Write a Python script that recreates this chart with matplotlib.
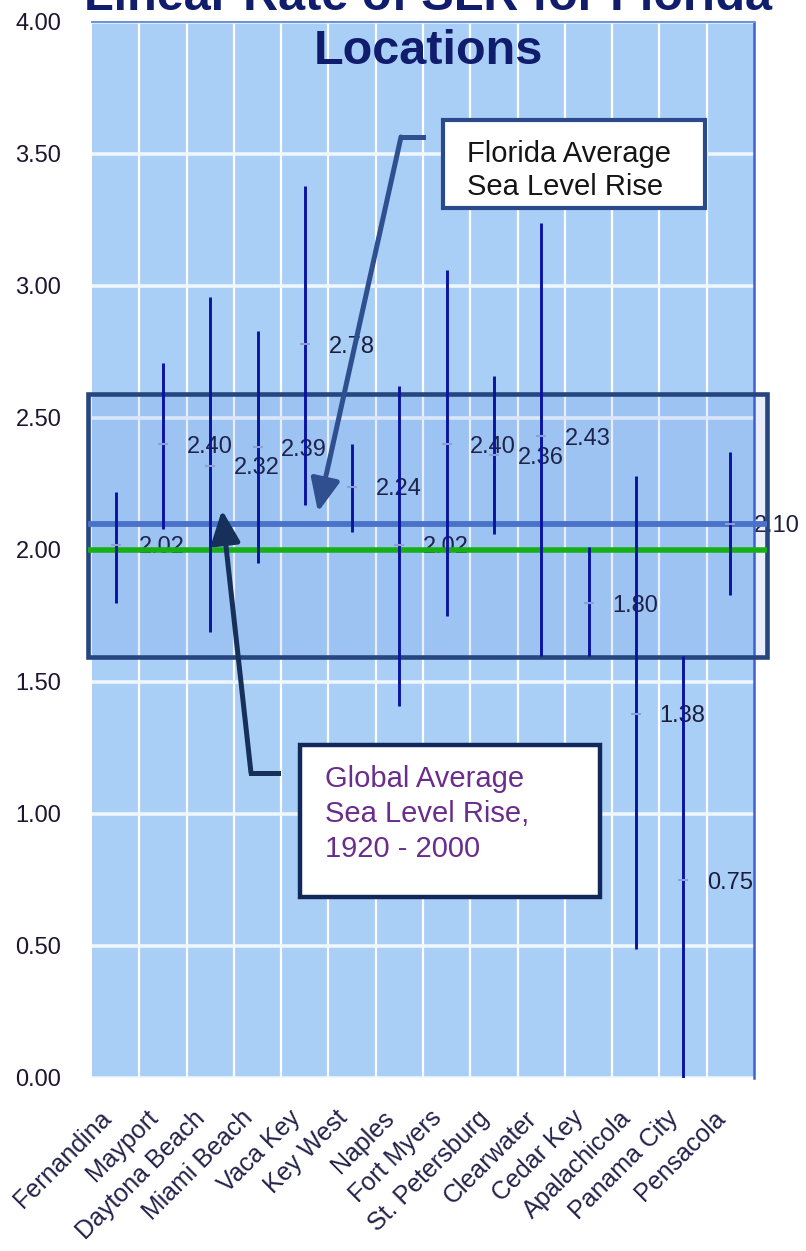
import numpy as np
import matplotlib
matplotlib.use("Agg")
import matplotlib.pyplot as plt
from matplotlib.patches import Rectangle
from matplotlib.lines import Line2D

plt.rcParams['font.family'] = ['Liberation Sans', 'DejaVu Sans']

# ---- data ----
locations = ["Fernandina", "Mayport", "Daytona Beach", "Miami Beach", "Vaca Key",
             "Key West", "Naples", "Fort Myers", "St. Petersburg", "Clearwater",
             "Cedar Key", "Apalachicola", "Panama City", "Pensacola"]
rates = [2.02, 2.40, 2.32, 2.39, 2.78, 2.24, 2.02, 2.40, 2.36, 2.43, 1.80, 1.38, 0.75, 2.10]
rates_low = [1.80, 2.08, 1.69, 1.95, 2.17, 2.07, 1.41, 1.75, 2.06, 1.60, 1.60, 0.49, 0.00, 1.83]
rates_high = [2.22, 2.71, 2.96, 2.83, 3.38, 2.40, 2.62, 3.06, 2.66, 3.24, 2.01, 2.28, 1.60, 2.37]
florida_avg = 2.10
global_avg = 2.00
yticks = [0.0, 0.5, 1.0, 1.5, 2.0, 2.5, 3.0, 3.5, 4.0]

W, H = 806, 1251
fig = plt.figure(figsize=(W / 100, H / 100), dpi=100)
fig.patch.set_facecolor('white')


def F(x, y):
    return (x / W, 1 - y / H)


ax = fig.add_axes([92 / W, 173 / H, 662 / W, 1056 / H])
ax.set_facecolor('#a9cff7')
x = np.arange(len(locations))
ax.set_xlim(-0.5, len(locations) - 0.5)
ax.set_ylim(0, 4)

# grid
ax.set_xticks(x)
ax.set_xticks(np.arange(0.5, len(locations) - 1, 1), minor=True)
ax.grid(which='minor', axis='x', color='white', lw=1.6, zorder=0)
ax.set_yticks(yticks)
ax.grid(which='major', axis='y', color='#eef6ff', lw=2.6, zorder=0)
ax.grid(which='major', axis='x', visible=False)
ax.set_axisbelow(True)

for s in ['left', 'bottom']:
    ax.spines[s].set_visible(False)
ax.spines['top'].set_color('#6f93da')
ax.spines['top'].set_linewidth(1.5)
ax.spines['right'].set_color('#3d62d0')
ax.spines['right'].set_linewidth(1.8)

ax.set_yticklabels([f"{v:.2f}" for v in yticks], fontsize=17, color='#1e1430')
ax.tick_params(axis='y', length=0, pad=22)
ax.set_xticklabels(locations, rotation=45, ha='right', fontsize=18, color='#22224a')
ax.tick_params(axis='x', which='both', length=0, pad=20)

# highlight box
box = Rectangle((-0.585, 1.595), 14.36, 0.995, transform=ax.transData,
                facecolor=(0.22, 0.38, 0.82, 0.10), edgecolor='#27457f', lw=3.3,
                clip_on=False, zorder=3)
ax.add_patch(box)

# average lines
ax.plot([-0.585, 13.775], [florida_avg, florida_avg], color='#4a72c8', lw=4.2,
        solid_capstyle='butt', clip_on=False, zorder=4)
ax.plot([-0.585, 13.775], [global_avg, global_avg], color='#16b016', lw=4.0,
        solid_capstyle='butt', clip_on=False, zorder=4)

# error bars
ax.vlines(x, rates_low, rates_high, color='#0a14a0', lw=2.1, zorder=5)
ax.plot(x, rates, ls='none', marker='_', ms=7, mew=1.5, color='#8d9fd6', zorder=6)

# value labels
for xi, v in zip(x, rates):
    ax.annotate(f"{v:.2f}", (xi, v), xytext=(17, -2), textcoords='offset points',
                ha='left', va='center', fontsize=17, color='#1c1c3c',
                annotation_clip=False, zorder=2)

# title (first line clipped at top)
fig.text(*F(428, 10), "Linear Rate of SLR for Florida", ha='center', va='baseline',
         fontsize=35, fontweight='bold', color='#101c6c')
fig.text(*F(428, 64), "Locations", ha='center', va='baseline',
         fontsize=35, fontweight='bold', color='#101c6c', zorder=10)

# Florida average callout
fig.add_artist(Rectangle(F(443, 208), 262 / W, 88 / H, transform=fig.transFigure,
                         facecolor='white', edgecolor='#2b4a8c', lw=3.0, zorder=10))
fig.text(*F(467, 162), "Florida Average", fontsize=21, color='#151515',
         va='baseline', zorder=11)
fig.text(*F(467, 195), "Sea Level Rise", fontsize=21, color='#151515',
         va='baseline', zorder=11)
fig.add_artist(Line2D([423 / W, 401 / W], [1 - 137 / H, 1 - 137 / H],
                      transform=fig.transFigure, color='#2f4f8f', lw=3.6, zorder=9))
ax.annotate('', xy=(318, H - 512), xytext=(401, H - 137), xycoords='figure pixels',
            textcoords='figure pixels',
            arrowprops=dict(arrowstyle='-|>,head_length=0.9,head_width=0.4',
                            mutation_scale=22, lw=3.6, color='#2f4f8f',
                            shrinkA=0, shrinkB=0), zorder=9)

# Global average callout
fig.add_artist(Rectangle(F(300, 897), 300 / W, 152 / H, transform=fig.transFigure,
                         facecolor='white', edgecolor='#12285a', lw=3.2, zorder=10))
for txt, yb in [("Global Average", 787), ("Sea Level Rise,", 822), ("1920 - 2000", 857)]:
    fig.text(*F(325, yb), txt, fontsize=21, color='#6a2d8c', va='baseline', zorder=11)
fig.add_artist(Line2D([278 / W, 251 / W], [1 - 773 / H, 1 - 773 / H],
                      transform=fig.transFigure, color='#17305a', lw=3.6, zorder=9))
ax.annotate('', xy=(222, H - 510), xytext=(251, H - 773), xycoords='figure pixels',
            textcoords='figure pixels',
            arrowprops=dict(arrowstyle='-|>,head_length=0.9,head_width=0.4',
                            mutation_scale=22, lw=3.6, color='#17305a',
                            shrinkA=0, shrinkB=0), zorder=9)

fig.savefig('out.png', dpi=100, facecolor='white')
